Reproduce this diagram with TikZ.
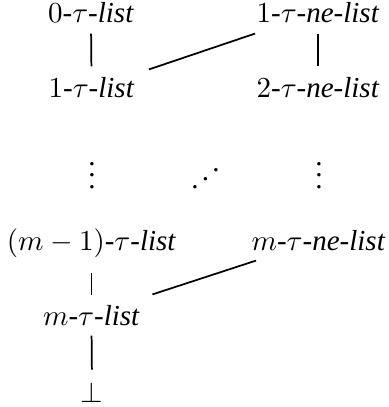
\documentclass[tikz,border=0pt]{standalone}
\usepackage[no-math]{fontspec}
\setmainfont{Liberation Serif}
\usetikzlibrary{calc}
\begin{document}
\begin{tikzpicture}[x=0.345pt,y=-0.345pt,
  lbl/.style={inner sep=0pt,anchor=base,text height=6.9pt,text depth=0pt,font=\fontsize{10}{12}\selectfont},
  dts/.style={inner sep=0pt,font=\fontsize{10}{12}\selectfont},
  edge/.style={line width=0.6pt}]
\useasboundingbox (0,0) rectangle (389,407);
\node[lbl] (a0) at (91,23) {$0$-$\tau$-\textit{list}};
\node[lbl] (c1) at (318,23) {$1$-$\tau$-\textit{ne-list}};
\node[lbl] (a1) at (91.5,97) {$1$-$\tau$-\textit{list}};
\node[lbl] (c2) at (318,97) {$2$-$\tau$-\textit{ne-list}};
\node[dts] (v1) at (92,167) {$\vdots$};
\node[dts] (v2) at (205.5,170) {\reflectbox{$\ddots$}};
\node[dts] (v3) at (319,167) {$\vdots$};
\node[lbl] (d) at (91.5,250) {$(m-1)$-$\tau$-\textit{list}};
\node[lbl] (e) at (318.5,250) {$m$-$\tau$-\textit{ne-list}};
\node[lbl] (f) at (91.5,325) {$m$-$\tau$-\textit{list}};
\node[lbl] (bot) at (92,402) {$\perp$};
\draw[edge,shorten <=3.45pt,shorten >=3.45pt] (a0.south) -- (a1.north);
\draw[edge,shorten <=3.45pt,shorten >=3.45pt] (c1.south) -- (c2.north);
\draw[edge] ($(a1.north east)+(14,-7)$) -- ($(c1.south west)+(-1,10)$);
\draw[edge,shorten <=7.8pt,shorten >=3.2pt] (d.south) -- (f.north);
\draw[edge] ($(f.north east)+(12,-10)$) -- ($(e.south west)+(5,10)$);
\draw[edge,shorten <=3.45pt,shorten >=4.1pt] (f.south) -- (bot.north);
\end{tikzpicture}
\end{document}
